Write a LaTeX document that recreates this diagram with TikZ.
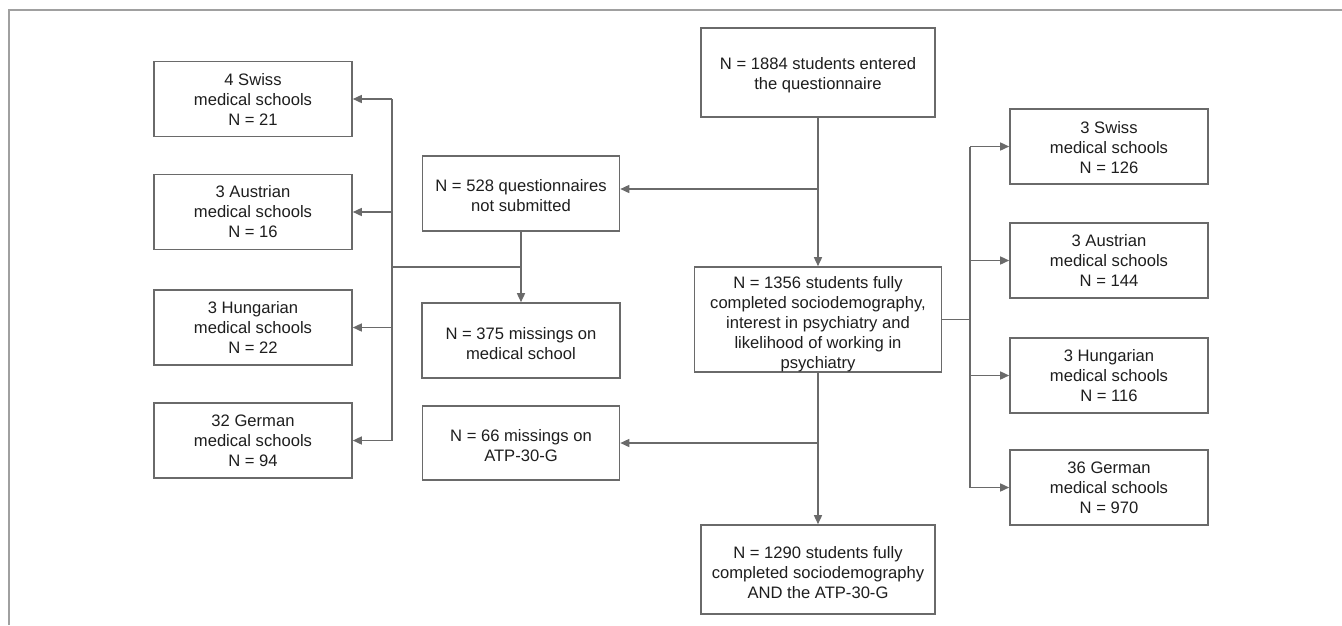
\documentclass[tikz,border=0pt]{standalone}
\usepackage{fontspec}
\setmainfont{Liberation Sans}
\usetikzlibrary{arrows.meta,calc}
\definecolor{linegray}{HTML}{6A6A6A}
\definecolor{framegray}{HTML}{A0A0A0}
\definecolor{txt}{HTML}{1E1E1E}
\begin{document}
\begin{tikzpicture}[x=1pt,y=-1pt,
  box/.style={draw=linegray,line width=1.6pt,fill=white,inner sep=0pt},
  tx/.style={align=center,inner sep=0pt,font=\fontsize{16.6}{20}\selectfont,text=txt},
  sbox/.style={box,minimum width=198pt,minimum height=75pt},
  arr/.style={draw=linegray,line width=1.5pt,-{Triangle[length=9pt,width=8pt]}},
  ln/.style={draw=linegray,line width=1.5pt}]
\useasboundingbox (0,0) rectangle (1342,625);
\draw[framegray,line width=1.6pt] (9,625) -- (9,10) -- (1342,10);

% main trunk
\node[box,minimum width=234pt,minimum height=89pt,
  label={[tx,yshift=-3pt]center:{N = 1884 students entered\\the questionnaire}}] (top) at (818,72.5) {};
\node[box,minimum width=247pt,minimum height=105pt,
  label={[tx,yshift=-5pt]center:{N = 1356 students fully\\completed sociodemography,\\interest in psychiatry and\\likelihood of working in\\psychiatry}}] (s1356) at (818,319.5) {};
\node[box,minimum width=234pt,minimum height=89pt,
  label={[tx,yshift=-3pt]center:{N = 1290 students fully\\completed sociodemography\\AND the ATP-30-G}}] (s1290) at (818,569.5) {};

% middle column
\node[box,minimum width=197pt,minimum height=75pt,
  label={[tx,yshift=-2pt]center:{N = 528 questionnaires\\not submitted}}] (q528) at (521,193.5) {};
\node[box,minimum width=198pt,minimum height=75pt,
  label={[tx,yshift=-3pt]center:{N = 375 missings on\\medical school}}] (m375) at (521,340.5) {};
\node[box,minimum width=197pt,minimum height=74pt,
  label={[tx,yshift=-3pt]center:{N = 66 missings on\\ATP-30-G}}] (m66) at (521,443) {};

% left column
\node[sbox,label={[tx]center:{4 Swiss\\medical schools\\N = 21}}] (lsw) at (253,99) {};
\node[sbox,label={[tx]center:{3 Austrian\\medical schools\\N = 16}}] (lau) at (253,212) {};
\node[sbox,label={[tx]center:{3 Hungarian\\medical schools\\N = 22}}] (lhu) at (253,327.5) {};
\node[sbox,label={[tx]center:{32 German\\medical schools\\N = 94}}] (lge) at (253,440.5) {};

% right column
\node[sbox,label={[tx,yshift=-1pt]center:{3 Swiss\\medical schools\\N = 126}}] (rsw) at (1109,146.5) {};
\node[sbox,label={[tx]center:{3 Austrian\\medical schools\\N = 144}}] (rau) at (1109,260.5) {};
\node[sbox,label={[tx]center:{3 Hungarian\\medical schools\\N = 116}}] (rhu) at (1109,375.5) {};
\node[sbox,label={[tx]center:{36 German\\medical schools\\N = 970}}] (rge) at (1109,487.5) {};

% coordinates
\coordinate (b1) at (818,189);
\coordinate (b2) at (818,443);
\coordinate (j1) at (521,267);
\coordinate (lx) at (392,0);
\coordinate (rx) at (970,0);

% connectors
\draw[arr] (top.south) -- (s1356.north);
\draw[arr] (s1356.south) -- (s1290.north);
\draw[arr] (b1) -- (b1 -| q528.east);
\draw[arr] (b2) -- (m66.east);
\draw[arr] (q528.south) -- (m375.north);

\draw[ln] (j1) -- (j1 -| lx);
\draw[ln] (lsw.east -| lx) -- (lge.east -| lx);
\draw[arr] (lsw.east -| lx) -- (lsw.east);
\draw[arr] (lau.east -| lx) -- (lau.east);
\draw[arr] (lhu.east -| lx) -- (lhu.east);
\draw[arr] (lge.east -| lx) -- (lge.east);

\draw[ln] (s1356.east) -- (s1356.east -| rx);
\draw[ln] (rsw.west -| rx) -- (rge.west -| rx);
\draw[arr] (rsw.west -| rx) -- (rsw.west);
\draw[arr] (rau.west -| rx) -- (rau.west);
\draw[arr] (rhu.west -| rx) -- (rhu.west);
\draw[arr] (rge.west -| rx) -- (rge.west);
\end{tikzpicture}
\end{document}
